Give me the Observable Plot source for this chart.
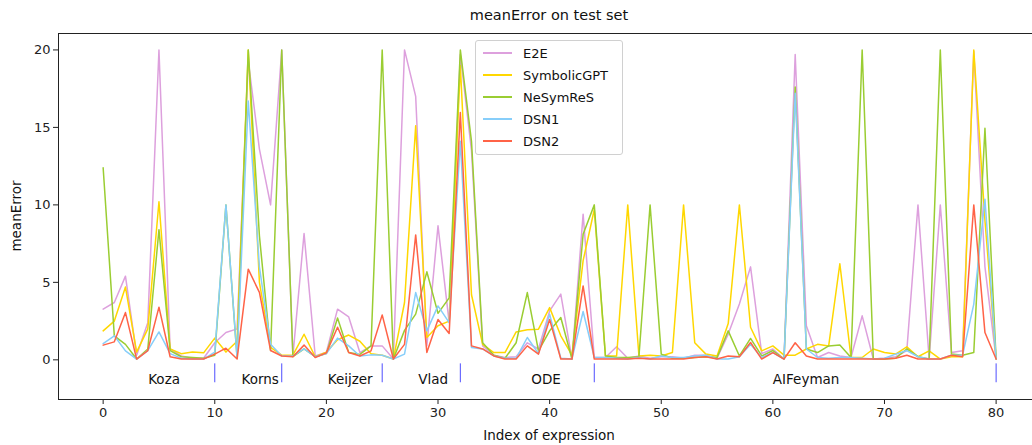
<!DOCTYPE html>
<html>
<head>
<meta charset="utf-8">
<script src="https://cdn.jsdelivr.net/npm/d3@7"></script>
<script src="https://cdn.jsdelivr.net/npm/@observablehq/plot@0.6"></script>
<style>
  html, body { margin: 0; padding: 0; overflow: hidden; background: #fff; }
  #wrap { position: relative; width: 1032px; height: 445px; font-family: "DejaVu Sans", sans-serif; }
  #chart svg { max-width: none !important; }
  #title { position: absolute; left: 0; width: 1098px; top: 7px; text-align: center; font-size: 14.5px; color: #111; }
  #xlabel { position: absolute; left: 0; width: 1098px; top: 427px; text-align: center; font-size: 13.5px; color: #111; }
  #ylabel { position: absolute; left: 16px; top: 216px; font-size: 13.5px; color: #111; white-space: nowrap;
            transform: translate(-50%, -50%) rotate(-90deg); }
  #legend { position: absolute; left: 475px; top: 40px; width: 148px; height: 115px; box-sizing: border-box;
            border: 1px solid #d0d0d0; border-radius: 3px; background: rgba(255,255,255,0.85); }
  .row { position: absolute; left: 0; height: 20px; display: flex; align-items: center; font-size: 13px; color: #111; }
  .sw { width: 29px; height: 1.5px; margin-left: 7px; margin-right: 11px; }
</style>
</head>
<body>
<div id="wrap">
  <div id="chart"></div>
  <div id="title">meanError on test set</div>
  <div id="xlabel">Index of expression</div>
  <div id="ylabel">meanError</div>
  <div id="legend"></div>
</div>
<script>
// ---- data ----
const seriesNames = ["E2E", "SymbolicGPT", "NeSymReS", "DSN1", "DSN2"];
const seriesColors = ["#DDA0DD", "#FFD700", "#9ACD32", "#87CEFA", "#FF6347"];
const xTicks = [0, 10, 20, 30, 40, 50, 60, 70, 80];
const yTicks = [0, 5, 10, 15, 20];

const e2e = [3.27,3.7,5.4,0.3,2.4,20,0.7,0.25,0.1,0.1,
  1.1,1.76,2.0,19.3,13.6,10.0,20,0.25,8.15,0.25,
  0.5,3.27,2.77,0.47,0.9,0.9,0.05,20,17.0,0.9,
  8.65,2.4,19.7,13.5,0.9,0.3,0.15,0.2,1.1,0.7,
  3.16,4.24,0.05,9.4,0.15,0.15,0.84,0.1,0.25,0.1,
  0.2,0.2,0.1,0.3,0.3,0.1,1.66,3.6,6.0,0.4,
  0.7,0.05,19.7,2.2,0.15,0.47,0.25,0.15,2.84,0.05,
  0.1,0.2,0.6,10.0,0.05,10.0,0.47,0.58,19.9,6.0,0.05];
const symbolicGPT = [1.87,2.5,4.7,0.5,2.0,10.2,0.7,0.4,0.5,0.45,
  1.4,0.5,1.2,20,5.0,0.8,0.3,0.3,1.65,0.2,
  0.5,1.3,1.6,1.2,0.4,0.3,0.05,3.7,15.1,1.44,
  2.2,2.5,19.0,4.2,1.0,0.47,0.47,1.8,1.94,1.98,
  3.37,1.55,0.3,6.4,9.7,0.25,0.25,10.0,0.25,0.3,
  0.25,0.47,10.0,1.1,0.37,0.25,2.34,10.0,2.1,0.58,
  0.9,0.3,0.3,0.7,1.0,0.9,6.2,0.15,0.15,0.7,
  0.47,0.37,0.84,0.2,0.58,0.05,0.2,0.2,20,9.0,0.05];
const neSymReS = [12.4,1.55,1.0,0.05,0.7,8.4,0.6,0.2,0.15,0.1,
  0.3,10.0,0.1,20,8.0,0.6,20,0.2,0.7,0.2,
  0.4,2.7,0.47,0.35,0.9,20,0.05,1.9,2.95,5.68,
  3.0,4.0,20,14.1,1.1,0.3,0.1,1.1,4.34,0.58,
  1.87,2.73,0.05,8.1,10.0,0.25,0.15,0.15,0.2,10.0,
  0.37,0.1,0.1,0.15,0.2,0.15,1.87,0.25,1.38,0.25,
  0.6,0.05,17.6,0.7,0.47,0.9,0.95,0.15,20,0.05,
  0.05,0.1,0.7,0.2,0.05,20,0.37,0.3,0.47,14.95,0.05];
const dsn1 = [1.05,1.55,0.58,0.05,0.6,1.8,0.4,0.1,0.05,0.05,
  0.5,10.0,0.15,16.7,6.0,1.0,0.25,0.25,0.7,0.2,
  0.4,1.4,0.9,0.25,0.32,0.3,0.05,0.37,4.34,1.87,
  3.48,2.4,14.1,0.8,0.7,0.25,0.1,0.1,1.44,0.4,
  2.95,0.1,0.05,3.12,0.15,0.15,0.1,0.05,0.15,0.05,
  0.25,0.15,0.15,0.25,0.3,0.05,0.05,0.2,1.0,0.15,
  0.47,0.05,17.2,0.7,0.15,0.1,0.15,0.15,0.1,0.05,
  0.1,0.37,0.6,0.2,0.05,0.05,0.3,0.3,3.6,10.37,0.05];
const dsn2 = [0.95,1.16,3.05,0.05,0.6,3.4,0.2,0.05,0.05,0.05,
  0.37,0.75,0.05,5.85,4.35,0.6,0.25,0.2,0.95,0.15,
  0.45,2.1,0.47,0.25,0.58,2.9,0.05,1.0,8.06,0.47,
  2.6,1.7,15.96,0.9,0.7,0.25,0.05,0.05,0.9,0.37,
  2.6,0.05,0.05,4.77,0.05,0.05,0.05,0.05,0.1,0.05,
  0.05,0.05,0.05,0.15,0.2,0.05,0.25,0.2,1.12,0.05,
  0.47,0.05,1.1,0.25,0.05,0.05,0.05,0.05,0.05,0.05,
  0.05,0.1,0.3,0.05,0.05,0.05,0.3,0.2,10.0,1.76,0.05];

const groupNames = ["Koza", "Korns", "Keijzer", "Vlad", "ODE", "AIFeyman"];
const groupLabelX = [5.46, 14.07, 22.13, 29.56, 39.68, 62.98];
const groupBounds = [10, 16, 25, 32, 44, 80];

// ---- build ----
const seriesValues = [e2e, symbolicGPT, neSymReS, dsn1, dsn2];
const data = seriesNames.flatMap((s, k) => seriesValues[k].map((v, i) => ({s, i, v})));
const labels = groupNames.map((g, k) => ({g, x: groupLabelX[k]}));

const chart = Plot.plot({
  width: 1032, height: 445,
  marginLeft: 58, marginRight: 0, marginTop: 33, marginBottom: 46,
  style: {fontFamily: "DejaVu Sans, sans-serif", fontSize: "13px", color: "#222", background: "transparent"},
  x: {domain: [-4, 83.26], ticks: xTicks, tickSize: 5, tickPadding: 3, label: null},
  y: {domain: [-2.56, 21.06], ticks: yTicks, tickSize: 5, tickPadding: 3, label: null},
  color: {domain: seriesNames, range: seriesColors},
  marks: [
    Plot.line(data, {x: "i", y: "v", z: "s", stroke: "s", strokeWidth: 1.5}),
    Plot.ruleX(groupBounds, {y1: -1.48, y2: -0.26, stroke: "#3a3aff", strokeWidth: 0.9}),
    Plot.text(labels, {x: "x", y: -1.3, text: "g", fontSize: 13.5, fill: "#111"}),
    Plot.ruleX([-4], {stroke: "#222", strokeWidth: 1}),
    Plot.ruleY([-2.56, 21.06], {stroke: "#222", strokeWidth: 1})
  ]
});
document.getElementById("chart").appendChild(chart);

// legend
const leg = document.getElementById("legend");
seriesNames.forEach((s, k) => {
  const row = document.createElement("div");
  row.className = "row";
  row.style.top = (2 + k * 22) + "px";
  const sw = document.createElement("span");
  sw.className = "sw";
  sw.style.background = seriesColors[k];
  const t = document.createElement("span");
  t.textContent = s;
  row.appendChild(sw); row.appendChild(t);
  leg.appendChild(row);
});
</script>
</body>
</html>
